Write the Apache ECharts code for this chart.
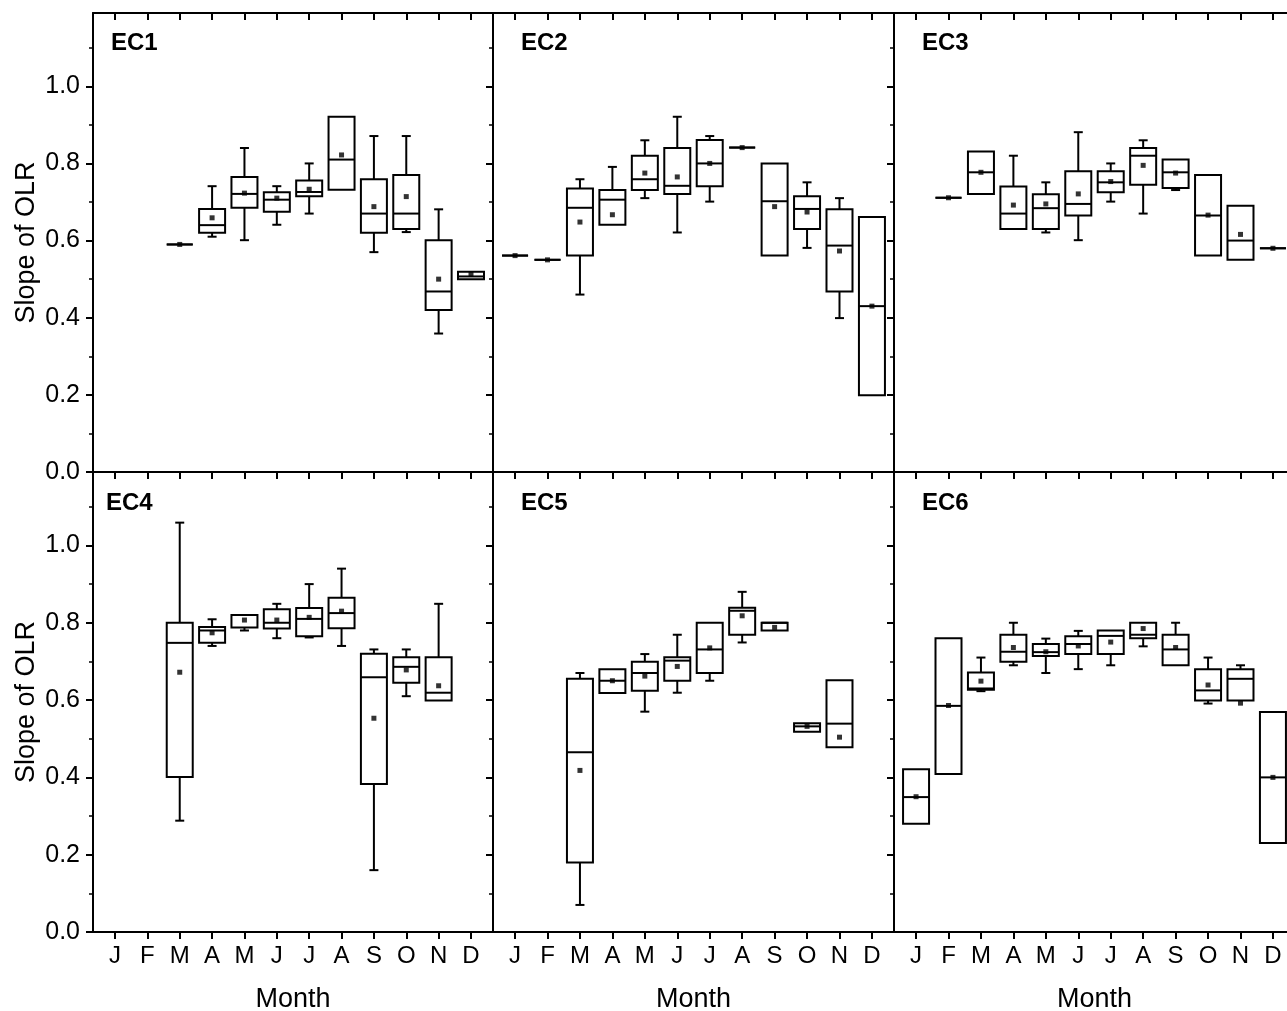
<!DOCTYPE html>
<html>
<head>
<meta charset="utf-8">
<title>Slope of OLR by month</title>
<script src="https://cdn.jsdelivr.net/npm/echarts@6/dist/echarts.min.js"></script>
<style>
  html, body { margin: 0; padding: 0; background: #fff; }
  #chart { width: 1287px; height: 1011px; }
</style>
</head>
<body>
<div id="chart"></div>
<script>
const months = ['J', 'F', 'M', 'A', 'M', 'J', 'J', 'A', 'S', 'O', 'N', 'D'];
const panelNames = ['EC1', 'EC2', 'EC3', 'EC4', 'EC5', 'EC6'];
const yMajor = [0, 0.2, 0.4, 0.6, 0.8, 1.0];
const yMinor = [0.1, 0.3, 0.5, 0.7, 0.9, 1.1];

// box rows: [lower whisker, q1, median, q3, upper whisker], null = no data
const ec1Box = [
  null, null,
  [0.59, 0.59, 0.59, 0.59, 0.59],
  [0.61, 0.62, 0.64, 0.682, 0.741],
  [0.601, 0.685, 0.721, 0.765, 0.84],
  [0.641, 0.675, 0.706, 0.725, 0.741],
  [0.67, 0.715, 0.726, 0.756, 0.80],
  [0.732, 0.732, 0.81, 0.921, 0.921],
  [0.57, 0.62, 0.67, 0.759, 0.871],
  [0.622, 0.63, 0.67, 0.77, 0.871],
  [0.359, 0.42, 0.468, 0.601, 0.681],
  [0.50, 0.50, 0.507, 0.519, 0.519]
];
const ec1Mean = [null, null, 0.59, 0.659, 0.723, 0.71, 0.733, 0.822, 0.688, 0.714, 0.50, 0.513];

const ec2Box = [
  [0.561, 0.561, 0.561, 0.561, 0.561],
  [0.55, 0.55, 0.55, 0.55, 0.55],
  [0.46, 0.561, 0.685, 0.735, 0.759],
  [0.641, 0.641, 0.706, 0.731, 0.791],
  [0.71, 0.731, 0.759, 0.82, 0.86],
  [0.621, 0.721, 0.742, 0.84, 0.921],
  [0.701, 0.741, 0.80, 0.861, 0.871],
  [0.841, 0.841, 0.841, 0.841, 0.841],
  [0.561, 0.561, 0.702, 0.80, 0.80],
  [0.581, 0.63, 0.682, 0.715, 0.751],
  [0.399, 0.468, 0.587, 0.681, 0.71],
  [0.199, 0.199, 0.43, 0.661, 0.661]
];
const ec2Mean = [0.561, 0.55, 0.648, 0.667, 0.775, 0.765, 0.80, 0.841, 0.688, 0.674, 0.573, 0.43];

const ec3Box = [
  null,
  [0.711, 0.711, 0.711, 0.711, 0.711],
  [0.721, 0.721, 0.777, 0.831, 0.831],
  [0.63, 0.63, 0.67, 0.74, 0.82],
  [0.621, 0.63, 0.684, 0.72, 0.751],
  [0.601, 0.665, 0.695, 0.78, 0.881],
  [0.701, 0.725, 0.751, 0.78, 0.80],
  [0.67, 0.745, 0.82, 0.84, 0.86],
  [0.731, 0.736, 0.777, 0.81, 0.81],
  [0.561, 0.561, 0.665, 0.77, 0.77],
  [0.55, 0.55, 0.60, 0.69, 0.69],
  [0.58, 0.58, 0.58, 0.58, 0.58]
];
const ec3Mean = [null, 0.711, 0.777, 0.692, 0.695, 0.721, 0.753, 0.795, 0.775, 0.666, 0.616, 0.58];

const ec4Box = [
  null, null,
  [0.288, 0.401, 0.748, 0.80, 1.059],
  [0.74, 0.748, 0.78, 0.789, 0.809],
  [0.78, 0.788, 0.82, 0.82, 0.82],
  [0.76, 0.785, 0.80, 0.835, 0.849],
  [0.762, 0.765, 0.81, 0.838, 0.90],
  [0.74, 0.786, 0.825, 0.865, 0.94],
  [0.16, 0.383, 0.659, 0.72, 0.731],
  [0.61, 0.645, 0.686, 0.711, 0.731],
  [0.599, 0.599, 0.619, 0.711, 0.849],
  null
];
const ec4Mean = [null, null, 0.672, 0.774, 0.807, 0.807, 0.814, 0.83, 0.553, 0.678, 0.637, null];

const ec5Box = [
  null, null,
  [0.07, 0.18, 0.465, 0.655, 0.67],
  [0.618, 0.618, 0.65, 0.68, 0.68],
  [0.57, 0.624, 0.67, 0.699, 0.719],
  [0.619, 0.65, 0.702, 0.711, 0.769],
  [0.65, 0.67, 0.731, 0.80, 0.80],
  [0.749, 0.769, 0.831, 0.839, 0.88],
  [0.78, 0.78, 0.80, 0.80, 0.80],
  [0.518, 0.518, 0.532, 0.54, 0.54],
  [0.478, 0.478, 0.539, 0.651, 0.651],
  null
];
const ec5Mean = [null, null, 0.418, 0.65, 0.662, 0.687, 0.735, 0.818, 0.788, 0.532, 0.504, null];

const ec6Box = [
  [0.28, 0.28, 0.349, 0.421, 0.421],
  [0.409, 0.409, 0.585, 0.76, 0.76],
  [0.623, 0.627, 0.63, 0.671, 0.71],
  [0.69, 0.699, 0.725, 0.769, 0.80],
  [0.67, 0.714, 0.724, 0.745, 0.759],
  [0.68, 0.719, 0.745, 0.765, 0.779],
  [0.69, 0.719, 0.766, 0.78, 0.78],
  [0.739, 0.76, 0.769, 0.80, 0.80],
  [0.69, 0.69, 0.731, 0.769, 0.80],
  [0.591, 0.599, 0.625, 0.68, 0.71],
  [0.599, 0.599, 0.655, 0.68, 0.69],
  [0.23, 0.23, 0.40, 0.569, 0.569]
];
const ec6Mean = [0.35, 0.586, 0.649, 0.736, 0.725, 0.74, 0.75, 0.785, 0.736, 0.639, 0.592, 0.40];

const boxes = [ec1Box, ec2Box, ec3Box, ec4Box, ec5Box, ec6Box];
const means = [ec1Mean, ec2Mean, ec3Mean, ec4Mean, ec5Mean, ec6Mean];

const FONT = '"Liberation Sans", Arial, sans-serif';
const X_MIN = -0.68, X_MAX = 11.68;
const Y_MAX = 1.19;
const BOX_PX = 26, CAP_PX = 9;
const monthIdx = months.map((m, i) => i);

const panelLeft = [93, 493, 894];
const panelWidth = [400, 401, 401];
const rowTop = [13, 472];
const rowHeight = [459, 460];

function renderBox(params, api) {
  const x = api.value(0);
  const lo = api.value(1), q1 = api.value(2), md = api.value(3), q3 = api.value(4), hi = api.value(5);
  const cx = api.coord([x, md])[0];
  const py = v => api.coord([x, v])[1];
  const half = BOX_PX / 2, cap = CAP_PX / 2;
  const st = { stroke: '#000', lineWidth: 2, fill: 'none' };
  const children = [
    { type: 'rect', shape: { x: cx - half, y: py(q3), width: BOX_PX, height: py(q1) - py(q3) }, style: st },
    { type: 'line', shape: { x1: cx - half, y1: py(md), x2: cx + half, y2: py(md) }, style: st }
  ];
  if (hi > q3) {
    children.push({ type: 'line', shape: { x1: cx, y1: py(q3), x2: cx, y2: py(hi) }, style: st });
    children.push({ type: 'line', shape: { x1: cx - cap, y1: py(hi), x2: cx + cap, y2: py(hi) }, style: st });
  }
  if (lo < q1) {
    children.push({ type: 'line', shape: { x1: cx, y1: py(q1), x2: cx, y2: py(lo) }, style: st });
    children.push({ type: 'line', shape: { x1: cx - cap, y1: py(lo), x2: cx + cap, y2: py(lo) }, style: st });
  }
  return { type: 'group', children };
}

const grid = [], xAxis = [], yAxis = [], series = [], title = [];
const axisLine = { show: true, onZero: false, lineStyle: { color: '#000', width: 2 } };
const noLine = { show: false, onZero: false };
const titlePos = [[111, 31], [521, 31], [922, 31], [106, 491], [521, 491], [922, 491]];

for (let k = 0; k < 6; k++) {
  const row = Math.floor(k / 3), col = k % 3;
  grid.push({
    left: panelLeft[col], top: rowTop[row], width: panelWidth[col], height: rowHeight[row],
    containLabel: false, outerBoundsMode: 'none'
  });

  const xi = xAxis.length;
  xAxis.push({
    gridIndex: k, type: 'value', min: X_MIN, max: X_MAX, position: 'bottom',
    axisLine,
    axisTick: { show: true, customValues: monthIdx, inside: false, length: 7, lineStyle: { color: '#000', width: 2 } },
    axisLabel: {
      show: row === 1, customValues: monthIdx, formatter: v => months[Math.round(v)],
      fontFamily: FONT, fontSize: 24, color: '#000', margin: 12
    },
    splitLine: { show: false },
    name: row === 1 ? 'Month' : '', nameLocation: 'middle', nameGap: 54,
    nameTextStyle: { fontFamily: FONT, fontSize: 27, color: '#000' }
  });
  xAxis.push({
    gridIndex: k, type: 'value', min: X_MIN, max: X_MAX, position: 'top',
    axisLine,
    axisTick: { show: true, customValues: monthIdx, inside: true, length: 7, lineStyle: { color: '#000', width: 2 } },
    axisLabel: { show: false },
    splitLine: { show: false }
  });

  const yi = yAxis.length;
  yAxis.push({
    gridIndex: k, type: 'value', min: 0, max: Y_MAX, position: 'left',
    axisLine,
    axisTick: { show: col === 0, customValues: yMajor, inside: false, length: 7, lineStyle: { color: '#000', width: 2 } },
    axisLabel: {
      show: col === 0, customValues: yMajor, formatter: v => v.toFixed(1),
      fontFamily: FONT, fontSize: 25, color: '#000', margin: 13
    },
    splitLine: { show: false },
    name: col === 0 ? 'Slope of OLR' : '', nameLocation: 'middle', nameGap: 53, nameRotate: 90,
    nameTextStyle: { fontFamily: FONT, fontSize: 27, color: '#000' }
  });
  if (col === 0) {
    yAxis.push({
      gridIndex: k, type: 'value', min: 0, max: Y_MAX, position: 'left',
      axisLine: noLine,
      axisTick: { show: true, customValues: yMinor, inside: false, length: 4, lineStyle: { color: '#000', width: 1.5 } },
      axisLabel: { show: false }, splitLine: { show: false }
    });
  }
  yAxis.push({
    gridIndex: k, type: 'value', min: 0, max: Y_MAX, position: 'right',
    axisLine,
    axisTick: { show: true, customValues: yMajor, inside: true, length: 7, lineStyle: { color: '#000', width: 2 } },
    axisLabel: { show: false }, splitLine: { show: false }
  });
  yAxis.push({
    gridIndex: k, type: 'value', min: 0, max: Y_MAX, position: 'right',
    axisLine: noLine,
    axisTick: { show: true, customValues: yMinor, inside: true, length: 4, lineStyle: { color: '#000', width: 1.5 } },
    axisLabel: { show: false }, splitLine: { show: false }
  });

  const boxData = [];
  boxes[k].forEach((r, i) => { if (r) boxData.push([i].concat(r)); });
  const meanData = [];
  means[k].forEach((m, i) => { if (m != null) meanData.push([i, m]); });

  series.push({
    type: 'custom', name: panelNames[k] + ' box', xAxisIndex: xi, yAxisIndex: yi,
    renderItem: renderBox, encode: { x: 0, y: [1, 2, 3, 4, 5] },
    data: boxData, silent: true, clip: true, z: 2
  });
  series.push({
    type: 'scatter', name: panelNames[k] + ' mean', xAxisIndex: xi, yAxisIndex: yi,
    symbol: 'rect', symbolSize: 5, itemStyle: { color: '#000' },
    data: meanData, silent: true, z: 3
  });

  title.push({
    text: panelNames[k], left: titlePos[k][0], top: titlePos[k][1], padding: 0,
    textStyle: { fontFamily: FONT, fontSize: 24, fontWeight: 'bold', color: '#000' }
  });
}

const chart = echarts.init(document.getElementById('chart'), null, { renderer: 'canvas' });
chart.setOption({
  animation: false,
  backgroundColor: '#fff',
  title, grid, xAxis, yAxis, series
});
window.addEventListener('resize', () => chart.resize());
</script>
</body>
</html>
